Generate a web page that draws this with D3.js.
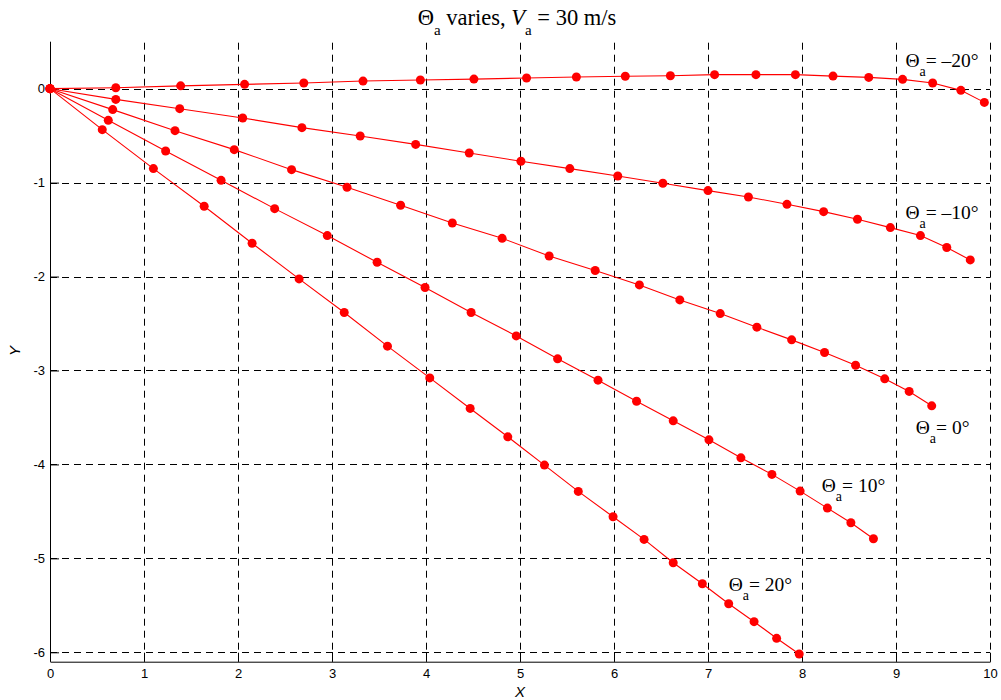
<!DOCTYPE html>
<html><head><meta charset="utf-8">
<script src="https://cdn.jsdelivr.net/npm/d3@7"></script>
<style>body{margin:0;background:#fff}</style>
</head><body>
<svg id="chart" width="1001" height="700"></svg>
<script>
// ---- data ----
const xTicks = [0,1,2,3,4,5,6,7,8,9,10];
const yTicks = [0,-1,-2,-3,-4,-5,-6];
const angles = [-20,-10,0,10,20];

const xM20 = [0,0.70,1.39,2.07,2.70,3.33,3.94,4.51,5.07,5.60,6.12,6.60,7.07,7.51,7.93,8.33,8.71,9.07,9.39,9.69,9.94];
const yM20 = [0,0.01,0.03,0.046,0.06,0.081,0.092,0.102,0.113,0.124,0.132,0.137,0.149,0.149,0.149,0.134,0.12,0.099,0.06,-0.018,-0.146];

const xM10 = [0,0.70,1.38,2.05,2.68,3.30,3.89,4.46,5.01,5.53,6.04,6.52,7.00,7.43,7.84,8.23,8.59,8.94,9.26,9.54,9.79];
const yM10 = [0,-0.114,-0.213,-0.312,-0.415,-0.504,-0.593,-0.685,-0.773,-0.851,-0.93,-1.007,-1.085,-1.153,-1.231,-1.309,-1.39,-1.479,-1.564,-1.691,-1.823];

const x0 = [0,0.667,1.33,1.96,2.57,3.16,3.73,4.28,4.81,5.31,5.80,6.27,6.70,7.13,7.52,7.89,8.24,8.57,8.88,9.14,9.38];
const y0 = [0,-0.223,-0.447,-0.649,-0.862,-1.05,-1.241,-1.43,-1.593,-1.781,-1.936,-2.089,-2.249,-2.394,-2.539,-2.674,-2.809,-2.944,-3.089,-3.223,-3.376];

const xP10 = [0,0.62,1.23,1.82,2.39,2.95,3.48,3.99,4.48,4.96,5.40,5.83,6.24,6.63,7.01,7.35,7.68,7.98,8.27,8.52,8.76];
const yP10 = [0,-0.337,-0.664,-0.976,-1.277,-1.564,-1.848,-2.117,-2.383,-2.632,-2.876,-3.103,-3.327,-3.536,-3.738,-3.93,-4.106,-4.284,-4.465,-4.621,-4.791];

const xP20 = [0,0.556,1.10,1.64,2.15,2.65,3.13,3.59,4.04,4.47,4.87,5.26,5.62,5.99,6.32,6.63,6.94,7.22,7.49,7.73,7.97];
const yP20 = [0,-0.436,-0.851,-1.252,-1.646,-2.025,-2.383,-2.741,-3.079,-3.404,-3.706,-4.007,-4.287,-4.557,-4.798,-5.047,-5.27,-5.483,-5.674,-5.851,-6.018];

const labelText = ["\u201320\u00b0","\u201310\u00b0","0\u00b0","10\u00b0","20\u00b0"];
// annotation anchors (data coords)
const labelX = [9.10, 9.10, 9.21, 8.21, 7.22];
const labelY = [0.227, -1.385, -3.68, -4.29, -5.35];

const seriesX = [xM20, xM10, x0, xP10, xP20];
const seriesY = [yM20, yM10, y0, yP10, yP20];

// ---- layout ----
const svg = d3.select("#chart");
const mLeft = 50, mRight = 990, mTop = 41.7, mBottom = 661.7;
const x = d3.scaleLinear().domain([0,10]).range([mLeft,mRight]);
const y = d3.scaleLinear().domain([-6.1,0.5]).range([mBottom,mTop]);

// grid
const grid = svg.append("g").attr("stroke","#000").attr("stroke-width",1).attr("stroke-dasharray","7,5").attr("fill","none");
xTicks.filter(d=>d!==0).forEach(d=>{
  grid.append("line").attr("x1",Math.round(x(d))+0.5).attr("x2",Math.round(x(d))+0.5).attr("y1",mBottom).attr("y2",mTop);
});
yTicks.forEach(d=>{
  grid.append("line").attr("x1",mLeft).attr("x2",mRight).attr("y1",Math.round(y(d))+0.5).attr("y2",Math.round(y(d))+0.5);
});

// axes
const fontSans = "'Liberation Sans', Arial, Helvetica, sans-serif";
const xAxis = svg.append("g").attr("transform",`translate(0,${mBottom})`)
  .call(d3.axisBottom(x).tickValues(xTicks).tickFormat(d3.format("d")).tickSizeInner(-9).tickSizeOuter(0).tickPadding(7));
const yAxis = svg.append("g").attr("transform",`translate(${mLeft},0)`)
  .call(d3.axisLeft(y).tickValues(yTicks).tickFormat(d=>String(d)).tickSizeInner(-9).tickSizeOuter(0).tickPadding(5));
[xAxis,yAxis].forEach(a=>{
  a.selectAll("text").attr("font-family",fontSans).attr("font-size",13).attr("fill","#000");
  a.selectAll("line").attr("stroke","#000");
  a.select(".domain").attr("stroke","#000");
});
yAxis.select(".domain").attr("d",`M0.5,${mBottom}V${mTop}`);

// series
const line = d3.line().x(d=>x(d[0])).y(d=>y(d[1]));
angles.forEach((a,i)=>{
  const pts = seriesX[i].map((v,j)=>[v, seriesY[i][j]]);
  const g = svg.append("g");
  g.append("path").datum(pts).attr("d",line).attr("fill","none").attr("stroke","#ff0000").attr("stroke-width",1.1);
  g.selectAll("circle").data(pts).join("circle")
    .attr("cx",d=>x(d[0])).attr("cy",d=>y(d[1])).attr("r",4.5).attr("fill","#ff0000");
});

// annotations
const fontSerif = "'Liberation Serif', 'Times New Roman', serif";
angles.forEach((a,i)=>{
  const t = svg.append("text").attr("x",x(labelX[i])).attr("y",y(labelY[i]))
    .attr("font-family",fontSerif).attr("font-size",19.5).attr("fill","#000");
  t.append("tspan").text("\u0398");
  t.append("tspan").attr("dy",9).attr("font-size",14).text("a");
  t.append("tspan").attr("dy",-9).text("= " + labelText[i]);
});

// title
const title = svg.append("text").attr("x",517).attr("y",25).attr("text-anchor","middle")
  .attr("font-family",fontSerif).attr("font-size",22.5).attr("fill","#000");
title.append("tspan").text("\u0398");
title.append("tspan").attr("dy",10).attr("font-size",15).text("a");
title.append("tspan").attr("dy",-10).text(" varies, ");
title.append("tspan").attr("font-style","italic").text("V");
title.append("tspan").attr("dy",10).attr("font-size",15).text("a");
title.append("tspan").attr("dy",-10).text(" = 30 m/s");

// axis labels
svg.append("text").attr("x",520).attr("y",697).attr("text-anchor","middle")
  .attr("font-family",fontSans).attr("font-style","italic").attr("font-size",15).text("X");
svg.append("text").attr("transform","translate(20,351) rotate(-90)").attr("text-anchor","middle")
  .attr("font-family",fontSans).attr("font-style","italic").attr("font-size",15).text("Y");
</script>
</body></html>
